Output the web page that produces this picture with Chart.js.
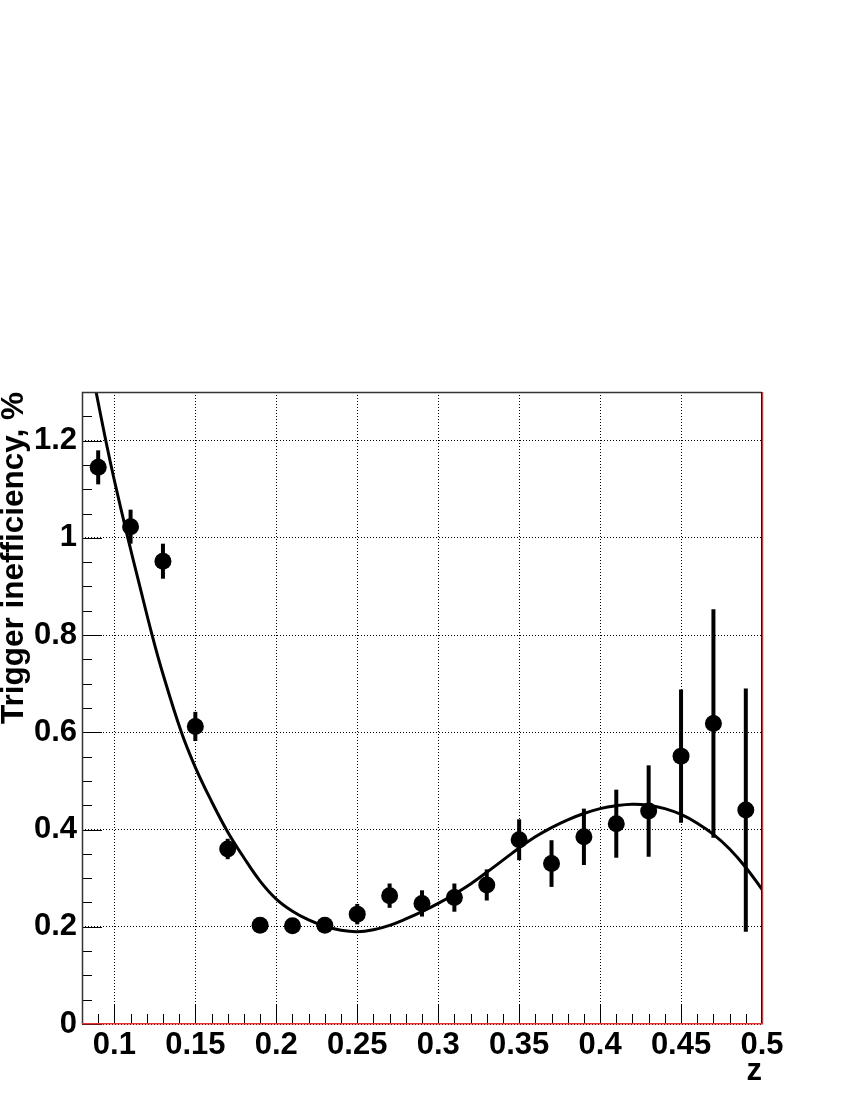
<!DOCTYPE html>
<html>
<head>
<meta charset="utf-8">
<script src="https://cdn.jsdelivr.net/npm/chart.js@4/dist/chart.umd.min.js"></script>
<style>html,body{margin:0;padding:0;background:#fff}canvas{display:block}</style>
</head>
<body>
<canvas id="c" width="850" height="1100"></canvas>
<script>
// Measured points
const zValues = [0.09, 0.11, 0.13, 0.15, 0.17, 0.19, 0.21, 0.23, 0.25, 0.27, 0.29, 0.31, 0.33, 0.35, 0.37, 0.39, 0.41, 0.43, 0.45, 0.47, 0.49];
const ineff = [1.145, 1.023, 0.952, 0.612, 0.360, 0.203, 0.202, 0.203, 0.226, 0.264, 0.248, 0.260, 0.286, 0.379, 0.330, 0.385, 0.412, 0.438, 0.551, 0.618, 0.440];
const ineffErr = [0.035, 0.035, 0.036, 0.030, 0.021, 0.010, 0.010, 0.012, 0.021, 0.025, 0.027, 0.029, 0.032, 0.042, 0.048, 0.058, 0.070, 0.094, 0.137, 0.235, 0.250];

// Fit curve
const fitZ = [0.0887, 0.095, 0.100, 0.1083, 0.115, 0.1233, 0.130, 0.1414, 0.150, 0.160, 0.170, 0.180, 0.190, 0.200, 0.210, 0.220, 0.230, 0.240, 0.250, 0.260, 0.270, 0.280, 0.290, 0.300, 0.310, 0.320, 0.330, 0.340, 0.350, 0.360, 0.370, 0.380, 0.390, 0.400, 0.410, 0.420, 0.430, 0.440, 0.450, 0.460, 0.470, 0.480, 0.490, 0.500];
const fitVal = [1.300, 1.195, 1.118, 1.000, 0.910, 0.800, 0.720, 0.600, 0.528, 0.458, 0.395, 0.342, 0.294, 0.257, 0.232, 0.214, 0.201, 0.193, 0.190, 0.194, 0.203, 0.216, 0.231, 0.248, 0.267, 0.288, 0.312, 0.337, 0.362, 0.385, 0.404, 0.420, 0.433, 0.443, 0.449, 0.452, 0.450, 0.443, 0.431, 0.413, 0.390, 0.360, 0.322, 0.277];

// Axes
const xMajorTicks = [0.1, 0.15, 0.2, 0.25, 0.3, 0.35, 0.4, 0.45, 0.5];
const xTickLabels = ['0.1', '0.15', '0.2', '0.25', '0.3', '0.35', '0.4', '0.45', '0.5'];
const yMajorTicks = [0, 0.2, 0.4, 0.6, 0.8, 1.0, 1.2];
const yTickLabels = ['0', '0.2', '0.4', '0.6', '0.8', '1', '1.2'];
const xRange = [0.08, 0.5];
const yRange = [0, 1.3];
const xMinorStep = 0.01;
const yMinorStep = 0.05;
const xTitle = 'z';
const yTitle = 'Trigger inefficiency, %';

const FONT = 'Liberation Sans, Arial, Helvetica, sans-serif';

const errorBars = {
  id: 'errorBars',
  beforeDatasetsDraw(chart) {
    const {ctx, scales: {x, y}} = chart;
    ctx.save();
    ctx.strokeStyle = '#000';
    ctx.lineWidth = 4;
    ctx.lineCap = 'butt';
    zValues.forEach((z, i) => {
      const px = x.getPixelForValue(z);
      ctx.beginPath();
      ctx.moveTo(px, y.getPixelForValue(ineff[i] - ineffErr[i]));
      ctx.lineTo(px, y.getPixelForValue(ineff[i] + ineffErr[i]));
      ctx.stroke();
    });
    ctx.restore();
  }
};

const frameAndTicks = {
  id: 'frameAndTicks',
  afterDraw(chart) {
    const {ctx, chartArea: ca, scales: {x, y}} = chart;
    ctx.save();
    ctx.lineWidth = 1;
    ctx.strokeStyle = '#000';
    ctx.beginPath();
    for (let k = 0; ; k++) {
      const v = +(xRange[0] + k * xMinorStep).toFixed(4);
      if (v > xRange[1] + 1e-9) break;
      const isMajor = xMajorTicks.some(t => Math.abs(t - v) < 1e-6);
      const px = Math.round(x.getPixelForValue(v)) + 0.5;
      ctx.moveTo(px, ca.bottom);
      ctx.lineTo(px, ca.bottom - (isMajor ? 19 : 10));
    }
    for (let k = 0; ; k++) {
      const v = +(yRange[0] + k * yMinorStep).toFixed(4);
      if (v > yRange[1] + 1e-9) break;
      const isMajor = yMajorTicks.some(t => Math.abs(t - v) < 1e-6);
      const py = Math.round(y.getPixelForValue(v)) + 0.5;
      ctx.moveTo(ca.left, py);
      ctx.lineTo(ca.left + (isMajor ? 20 : 10), py);
    }
    ctx.stroke();
    ctx.strokeStyle = '#333';
    ctx.lineWidth = 1.5;
    ctx.beginPath();
    ctx.moveTo(ca.left + 0.5, ca.bottom);
    ctx.lineTo(ca.left + 0.5, ca.top + 0.5);
    ctx.lineTo(ca.right, ca.top + 0.5);
    ctx.stroke();
    ctx.lineWidth = 1;
    ctx.strokeStyle = '#000';
    ctx.beginPath();
    ctx.moveTo(ca.right - 0.5, ca.top);
    ctx.lineTo(ca.right - 0.5, ca.bottom);
    ctx.stroke();
    ctx.strokeStyle = '#e03030';
    ctx.lineWidth = 1.5;
    ctx.beginPath();
    ctx.moveTo(ca.right + 0.5, ca.top);
    ctx.lineTo(ca.right + 0.5, ca.bottom + 0.5);
    ctx.moveTo(ca.left, ca.bottom - 0.25);
    ctx.lineTo(ca.right + 0.5, ca.bottom - 0.25);
    ctx.stroke();
    ctx.restore();
  }
};

new Chart(document.getElementById('c'), {
  type: 'scatter',
  data: {
    datasets: [
      {
        type: 'line',
        label: 'fit',
        data: fitZ.map((z, i) => ({x: z, y: fitVal[i]})),
        borderColor: '#000',
        borderWidth: 3,
        pointRadius: 0,
        fill: false,
        tension: 0.4,
        order: 0
      },
      {
        label: 'data',
        data: zValues.map((z, i) => ({x: z, y: ineff[i]})),
        backgroundColor: '#000',
        borderColor: '#000',
        borderWidth: 0,
        pointRadius: 8.5,
        pointStyle: 'circle',
        order: 1
      }
    ]
  },
  options: {
    responsive: false,
    animation: false,
    devicePixelRatio: 1,
    layout: {padding: {top: 392, right: 88, bottom: 0, left: 0}},
    plugins: {legend: {display: false}, tooltip: {enabled: false}},
    scales: {
      x: {
        type: 'linear',
        min: xRange[0], max: xRange[1],
        afterBuildTicks: s => { s.ticks = xMajorTicks.map(v => ({value: v})); },
        afterFit: s => { s.height = 76; },
        ticks: {
          callback: (v, i) => xTickLabels[i],
          color: '#000',
          font: {family: FONT, size: 31, weight: 'bold', lineHeight: 1.2},
          padding: 3,
          autoSkip: false, maxRotation: 0, minRotation: 0
        },
        grid: {color: '#000', lineWidth: 1, drawTicks: false},
        border: {display: false, dash: [1, 2]},
        title: {
          display: true, text: xTitle, align: 'end', color: '#000',
          font: {family: FONT, size: 31, weight: 'bold', lineHeight: 1},
          padding: {top: 0, bottom: 13}
        }
      },
      y: {
        type: 'linear',
        min: yRange[0], max: yRange[1],
        afterBuildTicks: s => { s.ticks = yMajorTicks.map(v => ({value: v})); },
        afterFit: s => { s.width = 82; },
        ticks: {
          callback: (v, i) => yTickLabels[i],
          color: '#000',
          font: {family: FONT, size: 31, weight: 'bold', lineHeight: 1.2},
          padding: 5
        },
        grid: {color: '#000', lineWidth: 1, drawTicks: false},
        border: {display: false, dash: [1, 2]},
        title: {
          display: true, text: yTitle, align: 'end', color: '#000',
          font: {family: FONT, size: 31.5, weight: 'bold', lineHeight: 1},
          padding: {top: -1, bottom: 0}
        }
      }
    }
  },
  plugins: [errorBars, frameAndTicks]
});
</script>
</body>
</html>
